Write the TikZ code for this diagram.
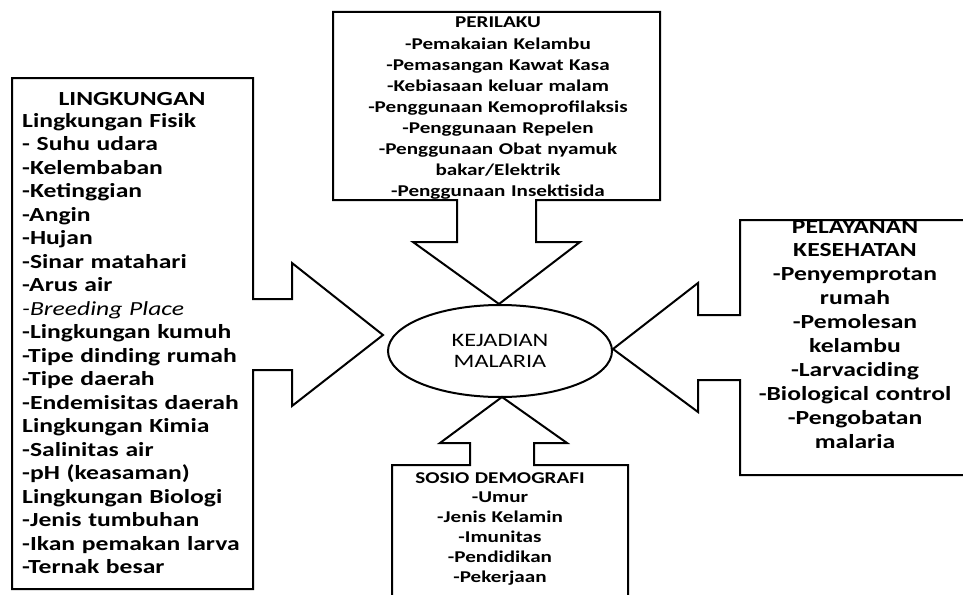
\documentclass[tikz,border=0pt]{standalone}
\usepackage{fontspec}
\setmainfont{Carlito}[FakeStretch=1.28]
\usetikzlibrary{shapes.geometric}

\tikzset{
	blok/.style = {draw, line width=2pt, line join=miter},
	isi/.style = {inner sep=0pt, font=\bfseries},
}

\begin{document}
\begin{tikzpicture}[x=1pt, y=-1pt]
			\useasboundingbox (0,0) rectangle (963,594);

			\begin{scope}
				\draw [blok] (12,78) -- (253,78) -- (253,299) -- (292,299) -- (292,263)
					-- (383,335) -- (292,406) -- (292,370) -- (253,370) -- (253,589) -- (12,589) -- cycle;
				\draw [blok] (333,12) -- (660,12) -- (660,200) -- (536,200) -- (536,242) -- (580,242)
					-- (499,304) -- (413,242) -- (457,242) -- (457,200) -- (333,200) -- cycle;
				\draw [blok] (975,220) -- (740,220) -- (740,315) -- (698,315) -- (698,283)
					-- (613,349) -- (698,412) -- (698,380) -- (740,380) -- (740,475) -- (975,475);
				\draw [blok] (392,605) -- (392,465) -- (470,465) -- (470,443) -- (440,443)
					-- (502,397) -- (567,443) -- (534,443) -- (534,465) -- (628,465) -- (628,605);
			\end{scope}

			\node [draw, ellipse, line width=2pt, minimum width=224pt, minimum height=92pt, inner sep=0pt,
				align=center, font=\fontsize{19}{21}\selectfont] (kejadian) at (500,351) {KEJADIAN\\MALARIA};

			\node [isi, anchor=base, font=\bfseries\fontsize{20}{23.5}\selectfont] (lingkungan) at (132,105) {LINGKUNGAN};
			\node [isi, anchor=base west, text width=235pt, align=left, font=\bfseries\fontsize{20}{23.5}\selectfont] (lingkList) at (22,127) {Lingkungan Fisik\\- Suhu udara\\-Kelembaban\\-Ketinggian\\-Angin\\-Hujan\\-Sinar matahari\\-Arus air\\{\mdseries\itshape -Breeding Place}\\-Lingkungan kumuh\\-Tipe dinding rumah\\-Tipe daerah\\-Endemisitas daerah\\Lingkungan Kimia\\-Salinitas air\\-pH (keasaman)\\Lingkungan Biologi\\-Jenis tumbuhan\\-Ikan pemakan larva\\-Ternak besar};

			\node [isi, anchor=base, text width=320pt, align=center, font=\bfseries\fontsize{16.5}{21.1}\selectfont] (perilaku) at (498,28) {PERILAKU\\-Pemakaian Kelambu\\-Pemasangan Kawat Kasa\\-Kebiasaan keluar malam\\-Penggunaan Kemoprofilaksis\\-Penggunaan Repelen\\-Penggunaan Obat nyamuk\\bakar/Elektrik\\-Penggunaan Insektisida};

			\node [isi, anchor=base, text width=215pt, align=center, font=\bfseries\fontsize{20}{23.9}\selectfont] (pelayanan) at (855,233) {PELAYANAN\\KESEHATAN\\-Penyemprotan\\rumah\\-Pemolesan\\kelambu\\-Larvaciding\\-Biological control\\-Pengobatan\\malaria};

			\node [isi, anchor=base, text width=220pt, align=center, font=\bfseries\fontsize{16.5}{19.8}\selectfont] (sosio) at (500,483) {SOSIO DEMOGRAFI\\-Umur\\-Jenis Kelamin\\-Imunitas\\-Pendidikan\\-Pekerjaan};
		\end{tikzpicture}
\end{document}
